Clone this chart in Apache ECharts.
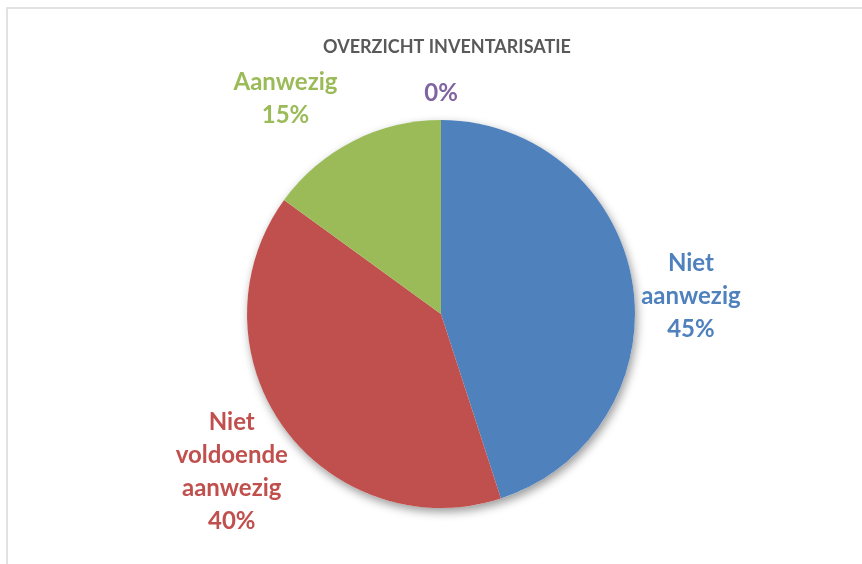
<!DOCTYPE html>
<html>
<head>
<meta charset="utf-8">
<script src="https://cdn.jsdelivr.net/npm/echarts@6/dist/echarts.min.js"></script>
<style>
html,body{margin:0;padding:0;background:#fff;}
#chart{width:862px;height:564px;}
</style>
</head>
<body>
<div id="chart"></div>
<script>
// ---- data ----
var categories = ['Niet aanwezig', 'Niet voldoende aanwezig', 'Aanwezig', ''];
var values = [45, 40, 15, 0];
var colors = ['#4F81BD', '#C0504D', '#9BBB59', '#8064A2'];
var titleText = 'OVERZICHT INVENTARISATIE';

// ---- layout / style (not data) ----
var CX = 441, CY = 314, R = 194;
var labelDist = 250;
var labelNudge = [[3, 21], [-7, 11], [-42, 8], [0, 29]];

var total = values.reduce(function (a, b) { return a + b; }, 0);
var midAngles = [];
(function () {
  var acc = 0;
  for (var i = 0; i < values.length; i++) {
    var mid = (acc + values[i] / 2) / total * 2 * Math.PI;
    midAngles.push(mid);
    acc += values[i];
  }
})();

var chart = echarts.init(document.getElementById('chart'), null, {renderer: 'canvas'});
var font = 'Lato, "Open Sans", sans-serif';

chart.setOption({
  backgroundColor: '#fff',
  animation: false,
  title: {
    text: titleText,
    left: 442,
    textAlign: 'center',
    top: 33,
    textStyle: {fontFamily: font, fontWeight: 'bold', fontSize: 18, color: '#595959'}
  },
  graphic: [{
    type: 'rect', silent: true, z: -10,
    shape: {x: 7, y: 8, width: 900, height: 700},
    style: {fill: 'none', stroke: '#d9d9d9', lineWidth: 1.5}
  }],
  series: [
    {
      type: 'pie', silent: true, center: [CX, CY], radius: R, z: 1,
      label: {show: false}, labelLine: {show: false},
      data: [{value: 1, itemStyle: {color: '#fff', shadowBlur: 10, shadowOffsetX: 2, shadowOffsetY: 4, shadowColor: 'rgba(0,0,0,0.4)'}}]
    },
    {
      type: 'pie', center: [CX, CY], radius: R, z: 2,
      startAngle: 90, clockwise: true, avoidLabelOverlap: false,
      stillShowZeroSum: true,
      labelLine: {show: false},
      label: {
        show: true, position: 'outside',
        fontFamily: font, fontWeight: 'bold', fontSize: 24, lineHeight: 33,
        align: 'center',
        color: 'inherit',
        formatter: function (p) {
          var pct = Math.round(p.percent) + '%';
          return p.name ? p.name.split(' ').join('\n') + '\n' + pct : pct;
        }
      },
      labelLayout: function (p) {
        var i = p.dataIndex;
        var a = midAngles[i];
        return {
          x: CX + labelDist * Math.sin(a) + labelNudge[i][0],
          y: CY - labelDist * Math.cos(a) + labelNudge[i][1],
          align: 'center', verticalAlign: 'middle'
        };
      },
      data: categories.map(function (c, i) {
        return {name: c, value: values[i], itemStyle: {color: colors[i]}, label: {color: colors[i]}};
      })
    }
  ]
});
</script>
</body>
</html>
